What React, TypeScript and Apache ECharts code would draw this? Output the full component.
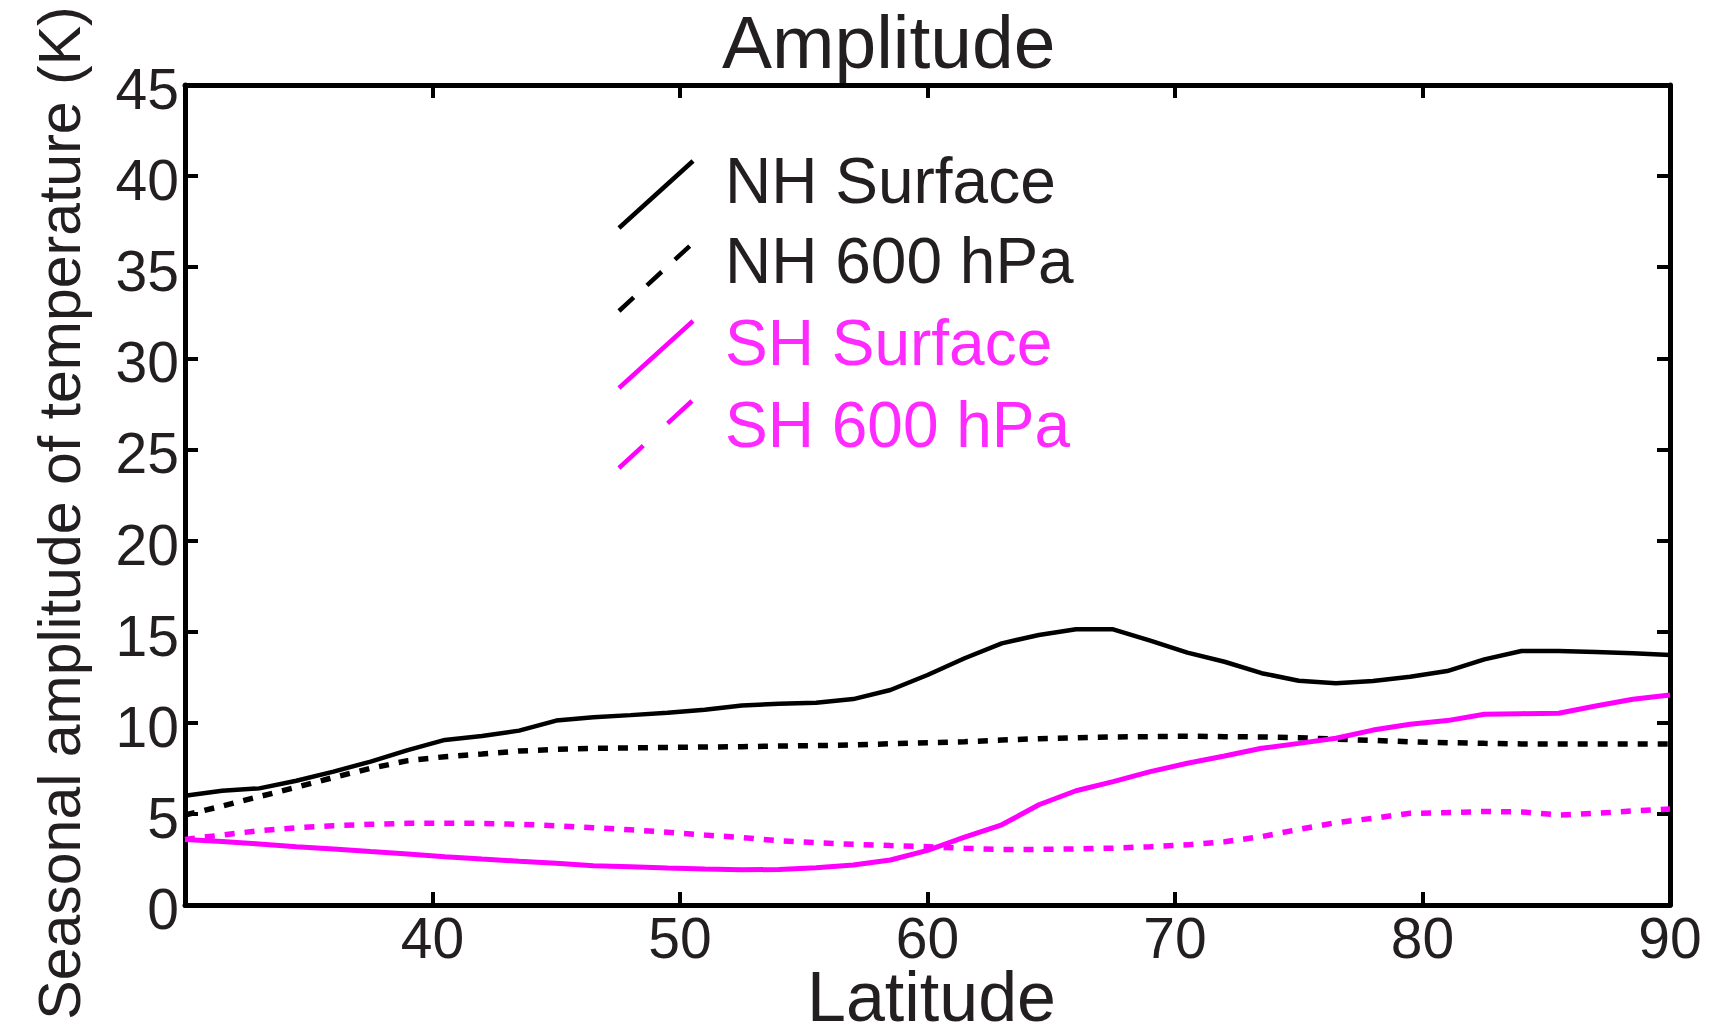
import React, { useEffect, useRef } from "react";
import * as echarts from "echarts";

const latitudes = [30, 31.5, 33, 34.5, 36, 37.5, 39, 40.5, 42, 43.5, 45, 46.5, 48, 49.5, 51, 52.5, 54, 55.5, 57, 58.5, 60, 61.5, 63, 64.5, 66, 67.5, 69, 70.5, 72, 73.5, 75, 76.5, 78, 79.5, 81, 82.5, 84, 85.5, 87, 88.5, 90];

const nhSurface = [6.0, 6.27, 6.4, 6.82, 7.32, 7.87, 8.5, 9.06, 9.28, 9.57, 10.12, 10.3, 10.42, 10.55, 10.72, 10.95, 11.05, 11.1, 11.3, 11.8, 12.62, 13.54, 14.36, 14.82, 15.13, 15.13, 14.51, 13.85, 13.35, 12.72, 12.31, 12.17, 12.29, 12.53, 12.84, 13.48, 13.94, 13.94, 13.89, 13.81, 13.72];

const nh600 = [4.94, 5.43, 5.95, 6.46, 7.0, 7.5, 7.92, 8.14, 8.29, 8.45, 8.54, 8.6, 8.62, 8.65, 8.67, 8.69, 8.72, 8.75, 8.78, 8.85, 8.91, 8.96, 9.05, 9.13, 9.18, 9.22, 9.24, 9.26, 9.24, 9.22, 9.18, 9.1, 9.03, 8.96, 8.91, 8.87, 8.84, 8.84, 8.84, 8.84, 8.84];

const shSurface = [3.6, 3.48, 3.35, 3.2, 3.07, 2.93, 2.8, 2.65, 2.52, 2.4, 2.29, 2.16, 2.1, 2.03, 1.97, 1.93, 1.95, 2.05, 2.2, 2.47, 3.0, 3.72, 4.4, 5.5, 6.27, 6.77, 7.32, 7.78, 8.18, 8.6, 8.87, 9.15, 9.6, 9.92, 10.12, 10.47, 10.5, 10.52, 10.92, 11.29, 11.53];

const sh600 = [3.6, 3.84, 4.08, 4.24, 4.35, 4.43, 4.48, 4.48, 4.48, 4.43, 4.35, 4.24, 4.13, 3.99, 3.84, 3.7, 3.53, 3.42, 3.33, 3.26, 3.2, 3.11, 3.05, 3.05, 3.08, 3.12, 3.2, 3.3, 3.47, 3.75, 4.15, 4.52, 4.76, 5.03, 5.07, 5.13, 5.11, 4.94, 5.03, 5.16, 5.27];

const seriesNames = ["NH Surface", "NH 600 hPa", "SH Surface", "SH 600 hPa"];
const xTicks = { min: 30, max: 90, interval: 10 };
const yTicks = { min: 0, max: 45, interval: 5 };

const FONT = "'Liberation Sans', Arial, Helvetica, sans-serif";
const TEXT = "#231f20";
const BLACK = "#000000";
const MAGENTA = "#ff00ff";
const MAGENTA_TEXT = "#ff2aff";

function pairs(ys: number[]) {
  return latitudes.map((x, i) => [x, ys[i]]);
}

export default function App() {
  const ref = useRef<HTMLDivElement>(null);

  useEffect(() => {
    document.body.style.margin = "0";
    if (!ref.current) return;
    const chart = echarts.init(ref.current, null, { renderer: "svg" });

    const axisLine = { show: true, onZero: false, lineStyle: { color: BLACK, width: 5 } };
    const axisTick = { show: true, inside: true, length: 13, lineStyle: { color: BLACK, width: 4 } };

    const legendText = (i: number, y: number, fill: string) => ({
      type: "text",
      x: 725,
      y,
      style: { text: seriesNames[i], fontSize: 64, fontFamily: FONT, fill, verticalAlign: "middle" },
    });

    const option: any = {
      animation: false,
      backgroundColor: "#ffffff",
      title: {
        text: "Amplitude",
        left: 722,
        top: 4,
        padding: 0,
        textStyle: { fontSize: 75, fontWeight: "normal", color: TEXT, fontFamily: FONT },
      },
      grid: { left: 185, top: 85, right: 42, bottom: 131, containLabel: false, outerBoundsMode: "none" },
      xAxis: [
        {
          type: "value",
          ...xTicks,
          position: "bottom",
          name: "Latitude",
          nameLocation: "middle",
          nameGap: 57,
          nameMoveOverlap: false,
          nameTextStyle: { fontSize: 70, color: TEXT, fontFamily: FONT, padding: [0, 0, 0, 8] },
          axisLine,
          axisTick,
          splitLine: { show: false },
          axisLabel: {
            fontSize: 57,
            color: TEXT,
            fontFamily: FONT,
            margin: 4,
            formatter: (v: number) => (v === 30 ? "" : String(v)),
          },
        },
        {
          type: "value",
          ...xTicks,
          position: "top",
          axisLine,
          axisTick,
          splitLine: { show: false },
          axisLabel: { show: false },
        },
      ],
      yAxis: [
        {
          type: "value",
          ...yTicks,
          position: "left",
          name: "Seasonal amplitude of temperature (K)",
          nameLocation: "middle",
          nameGap: 96,
          nameMoveOverlap: false,
          nameTextStyle: { fontSize: 59, color: TEXT, fontFamily: FONT, padding: [0, 36, 0, 0] },
          axisLine,
          axisTick,
          splitLine: { show: false },
          axisLabel: {
            margin: 6,
            formatter: (v: number) => `{v|${v}}`,
            rich: { v: { fontSize: 57, color: TEXT, fontFamily: FONT, padding: [8, 0, 0, 0] } },
          },
        },
        {
          type: "value",
          ...yTicks,
          position: "right",
          axisLine,
          axisTick,
          splitLine: { show: false },
          axisLabel: { show: false },
        },
      ],
      series: [
        {
          name: seriesNames[0],
          type: "line",
          data: pairs(nhSurface),
          showSymbol: false,
          symbol: "none",
          lineStyle: { color: BLACK, width: 4.5 },
          itemStyle: { color: BLACK },
        },
        {
          name: seriesNames[1],
          type: "line",
          data: pairs(nh600),
          showSymbol: false,
          symbol: "none",
          lineStyle: { color: BLACK, width: 5.5, type: [10, 10] },
          itemStyle: { color: BLACK },
        },
        {
          name: seriesNames[2],
          type: "line",
          data: pairs(shSurface),
          showSymbol: false,
          symbol: "none",
          lineStyle: { color: MAGENTA, width: 5 },
          itemStyle: { color: MAGENTA },
        },
        {
          name: seriesNames[3],
          type: "line",
          data: pairs(sh600),
          showSymbol: false,
          symbol: "none",
          lineStyle: { color: MAGENTA, width: 5.5, type: [10, 10] },
          itemStyle: { color: MAGENTA },
        },
      ],
      graphic: [
        { type: "line", shape: { x1: 619, y1: 228, x2: 693, y2: 161 }, style: { stroke: BLACK, lineWidth: 4.5 } },
        { type: "line", shape: { x1: 619, y1: 311, x2: 693, y2: 243 }, style: { stroke: BLACK, lineWidth: 4.5, lineDash: [20, 18] } },
        { type: "line", shape: { x1: 619, y1: 388, x2: 693, y2: 321 }, style: { stroke: MAGENTA, lineWidth: 4.5 } },
        { type: "line", shape: { x1: 619, y1: 468, x2: 693, y2: 400 }, style: { stroke: MAGENTA, lineWidth: 4.5, lineDash: [33, 33] } },
        legendText(0, 181, TEXT),
        legendText(1, 261, TEXT),
        legendText(2, 343, MAGENTA_TEXT),
        legendText(3, 425, MAGENTA_TEXT),
      ],
    };

    chart.setOption(option);
    return () => chart.dispose();
  }, []);

  return <div ref={ref} style={{ width: 1712, height: 1036 }} />;
}
